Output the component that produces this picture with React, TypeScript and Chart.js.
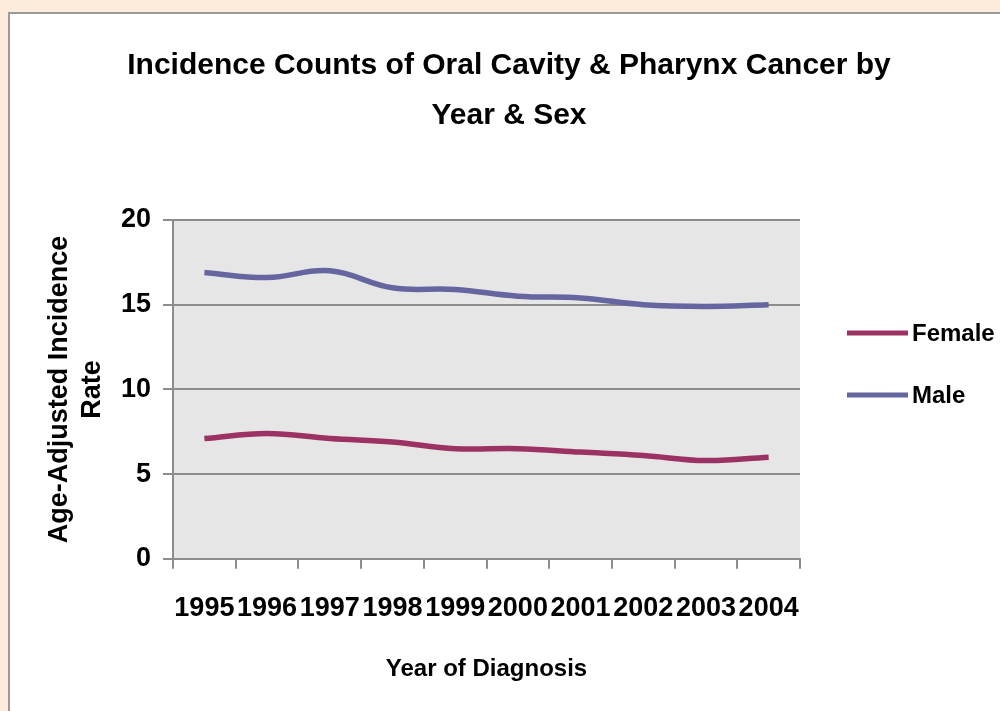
import React, { useEffect, useRef } from "react";
import { Chart, registerables } from "chart.js";

Chart.register(...registerables);

const years = ["1995", "1996", "1997", "1998", "1999", "2000", "2001", "2002", "2003", "2004"];
const female = [7.1, 7.4, 7.1, 6.9, 6.5, 6.5, 6.3, 6.1, 5.8, 6.0];
const male = [16.9, 16.6, 17.0, 16.0, 15.9, 15.5, 15.4, 15.0, 14.9, 15.0];
const seriesNames = ["Female", "Male"];
const seriesColors = ["#9c3263", "#6565a0"];
const chartTitle = ["Incidence Counts of Oral Cavity & Pharynx Cancer by", "Year & Sex"];
const yTitle = ["Age-Adjusted Incidence", "Rate"];
const xTitle = "Year of Diagnosis";

const FONT = "'Liberation Sans', Arial, sans-serif";

const plotBg = {
  id: "plotBg",
  beforeDraw(chart: any) {
    const { ctx, chartArea } = chart;
    ctx.save();
    ctx.fillStyle = "#e6e6e6";
    ctx.fillRect(chartArea.left, chartArea.top, chartArea.right - chartArea.left, chartArea.bottom - chartArea.top);
    ctx.restore();
  },
};

const sideLegend = {
  id: "sideLegend",
  afterDraw(chart: any) {
    const { ctx, chartArea } = chart;
    const x0 = chartArea.right + 47;
    const lineLen = 61;
    const yStart = 333;
    const gap = 62;
    ctx.save();
    chart.data.datasets.forEach((ds: any, i: number) => {
      const y = yStart + i * gap;
      ctx.strokeStyle = ds.borderColor;
      ctx.lineWidth = 5;
      ctx.lineCap = "butt";
      ctx.beginPath();
      ctx.moveTo(x0, y);
      ctx.lineTo(x0 + lineLen, y);
      ctx.stroke();
      ctx.fillStyle = "#000";
      ctx.font = `bold 24px ${FONT}`;
      ctx.textBaseline = "middle";
      ctx.textAlign = "left";
      ctx.fillText(ds.label, x0 + lineLen + 4, y + 1);
    });
    ctx.restore();
  },
};

export default function App() {
  const ref = useRef<HTMLCanvasElement | null>(null);
  useEffect(() => {
    if (!ref.current) return;
    const chart = new Chart(ref.current, {
      type: "line",
      data: {
        labels: years,
        datasets: [
          {
            label: seriesNames[0],
            data: female,
            borderColor: seriesColors[0],
            backgroundColor: seriesColors[0],
            borderWidth: 5.5,
            pointRadius: 0,
            tension: 0.4,
            yAxisID: "y",
          },
          {
            label: seriesNames[1],
            data: male,
            borderColor: seriesColors[1],
            backgroundColor: seriesColors[1],
            borderWidth: 5.5,
            pointRadius: 0,
            tension: 0.4,
            yAxisID: "y",
          },
        ],
      },
      options: {
        animation: false,
        responsive: false,
        maintainAspectRatio: false,
        layout: { padding: { left: 20, right: 2, top: 0, bottom: 27 } },
        plugins: {
          legend: { display: false },
          tooltip: { enabled: false },
          title: {
            display: true,
            text: chartTitle,
            color: "#000",
            font: { family: FONT, size: 30, weight: "bold", lineHeight: 1.6667 },
            padding: { top: 41, bottom: 79 },
          },
        },
        scales: {
          x: {
            type: "category",
            offset: true,
            grid: {
              offset: true,
              drawOnChartArea: false,
              drawTicks: true,
              tickLength: 10,
              color: "#8c8c8c",
              lineWidth: 2,
            },
            border: { color: "#8c8c8c", width: 2 },
            ticks: {
              color: "#000",
              font: { family: FONT, size: 27, weight: "bold" },
              padding: 24,
              autoSkip: false,
              maxRotation: 0,
              minRotation: 0,
            },
            title: {
              display: true,
              text: xTitle,
              color: "#000",
              font: { family: FONT, size: 24, weight: "bold" },
              padding: { top: 6, bottom: 0 },
            },
          },
          y: {
            min: 0,
            max: 20,
            ticks: {
              stepSize: 5,
              color: "#000",
              font: { family: FONT, size: 27, weight: "bold" },
              padding: 12,
            },
            grid: {
              color: "#8c8c8c",
              lineWidth: 2,
              tickLength: 10,
              drawTicks: true,
            },
            border: { color: "#8c8c8c", width: 2 },
            title: {
              display: true,
              text: yTitle,
              color: "#000",
              font: { family: FONT, size: 27, weight: "bold", lineHeight: 1.2222 },
              padding: { top: 23, bottom: 0 },
            },
          },
          legendSpace: {
            type: "linear",
            position: "right",
            display: true,
            ticks: { display: false },
            grid: { display: false, drawTicks: false },
            border: { display: false },
            afterFit: (scale: any) => {
              scale.width = 198;
            },
          },
        },
      },
      plugins: [plotBg, sideLegend],
    });
    return () => chart.destroy();
  }, []);

  return (
    <div style={{ position: "fixed", left: 0, top: 0, width: 1000, height: 711, background: "#fdebdc", overflow: "hidden" }}>
      <div
        style={{
          position: "absolute",
          left: 8,
          top: 12,
          width: 1000,
          height: 711,
          background: "#fff",
          border: "2px solid #9a9a9a",
        }}
      />
      <canvas ref={ref} width={1000} height={711} style={{ position: "absolute", left: 0, top: 0, width: 1000, height: 711 }} />
    </div>
  );
}
